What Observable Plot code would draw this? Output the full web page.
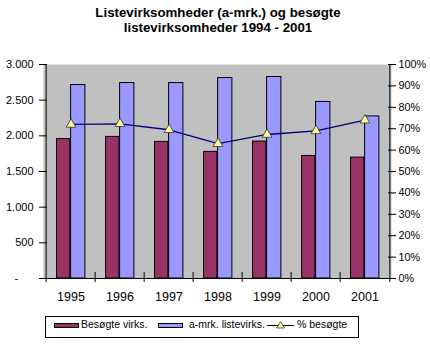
<!DOCTYPE html>
<html>
<head>
<meta charset="utf-8">
<script src="https://cdn.jsdelivr.net/npm/d3@7"></script>
<script src="https://cdn.jsdelivr.net/npm/@observablehq/plot@0.6"></script>
<style>
  body { margin: 0; background: #fff; font-family: "Liberation Sans", Arial, sans-serif; }
  #wrap { position: relative; width: 430px; height: 351px; background: #fff; overflow: hidden; }
  #title { position: absolute; top: 5px; left: 0; width: 436px; text-align: center; font-weight: bold; font-size: 13.3px; line-height: 15px; color: #000; }
  #legend { position: absolute; left: 45px; top: 316px; width: 314px; height: 22px; border: 1px solid #000; box-sizing: border-box; background: #fff; }
  #legend .sw { position: absolute; height: 5px; width: 25px; border: 1px solid #000; box-sizing: border-box; top: 6px; }
  #legend .lb { position: absolute; font-size: 10.5px; line-height: 12px; top: 1px; color: #000; white-space: nowrap; }
  #legend svg { position: absolute; }
  #chart { position: absolute; left: 0; top: 0; }
</style>
</head>
<body>
<div id="wrap">
  <div id="chart"></div>
  <div id="title">Listevirksomheder (a-mrk.) og besøgte<br>listevirksomheder 1994 - 2001</div>
  <div id="legend"></div>
</div>
<script>
// ---- data ----
const years = ["1995", "1996", "1997", "1998", "1999", "2000", "2001"];
const besogteVirks = [1955, 1985, 1915, 1775, 1920, 1718, 1695];
const amrkListevirks = [2712, 2740, 2740, 2810, 2825, 2475, 2272];
const pctBesogte = [72, 72.3, 69.5, 63, 67.3, 69, 74];
const leftTicks = [0, 500, 1000, 1500, 2000, 2500, 3000];
const rightTicks = [0, 10, 20, 30, 40, 50, 60, 70, 80, 90, 100];
const seriesNames = ["Besøgte virks.", "a-mrk. listevirks.", "% besøgte"];

// ---- styles ----
const RED = "#993366", BLUE = "#9999ff", NAVY = "#000080", TRI = "#ffff99", BG = "#c0c0c0";
const W = 430, H = 351, ML = 43, MR = 39, MT = 64, MB = 73;
const plotW = W - ML - MR, plotH = H - MT - MB;
const bw = plotW / years.length;
const PCT_TO_Y = 3000 / 100;

const rows = years.map((y, i) => ({ year: y, besogte: besogteVirks[i], amrk: amrkListevirks[i], pct: pctBesogte[i] }));

const fmtLeft = d => d === 0 ? "-\u00a0\u00a0\u00a0\u00a0\u00a0" : d3.format(",")(d).replace(/,/g, ".");

const chart = Plot.plot({
  width: W, height: H,
  marginLeft: ML, marginRight: MR, marginTop: MT, marginBottom: MB,
  style: { fontFamily: "Liberation Sans, Arial, sans-serif", background: "transparent", color: "#000", overflow: "visible" },
  x: { type: "band", domain: years, paddingInner: 0, paddingOuter: 0, label: null },
  y: { domain: [0, 3000], label: null },
  marks: [
    Plot.frame({ fill: BG, stroke: "none" }),
    Plot.barY(rows, { x: "year", y: "besogte", fill: RED, stroke: "#000", strokeWidth: 1, insetLeft: 10.6, insetRight: bw - 24.6 }),
    Plot.barY(rows, { x: "year", y: "amrk", fill: BLUE, stroke: "#000", strokeWidth: 1, insetLeft: 24.6, insetRight: bw - 39.6 }),
    Plot.lineY(rows, { x: "year", y: d => d.pct * PCT_TO_Y, stroke: NAVY, strokeWidth: 1.3 }),
    Plot.dot(rows, { x: "year", y: d => d.pct * PCT_TO_Y, symbol: "triangle", r: 3.6, fill: TRI, stroke: "#333", strokeWidth: 0.8 }),
    // axis lines
    Plot.ruleY([0], { stroke: "#000", strokeWidth: 1 }),
    Plot.ruleX([years[0]], { dx: -bw / 2, stroke: "#000", insetBottom: -4 }),
    Plot.ruleX([years[years.length - 1]], { dx: bw / 2, stroke: "#000", insetBottom: -4 }),
    // category boundary ticks
    Plot.ruleX(years.slice(1), { dx: -bw / 2, stroke: "#000", insetTop: plotH - 6, insetBottom: -4 }),
    // axes
    Plot.axisX({ tickSize: 0, tickPadding: 14, fontSize: 12.5 }),
    Plot.axisY({ anchor: "left", ticks: leftTicks, tickFormat: fmtLeft, tickSize: 8, dx: 4, tickPadding: 6, fontSize: 11 }),
    Plot.axisY({ anchor: "right", ticks: rightTicks.map(p => p * PCT_TO_Y), tickFormat: d => Math.round(d / PCT_TO_Y) + "%", tickSize: 8, dx: -4, tickPadding: 3, fontSize: 10.8 })
  ]
});
document.getElementById("chart").appendChild(chart);

// ---- legend ----
const lg = document.getElementById("legend");
const ox = 46; // legend inner left edge (page px)
function add(html) { lg.insertAdjacentHTML("beforeend", html); }
add(`<div class="sw" style="left:${54 - ox}px;background:${RED}"></div>`);
add(`<div class="lb" style="left:${81 - ox}px">${seriesNames[0]}</div>`);
add(`<div class="sw" style="left:${158 - ox}px;background:${BLUE}"></div>`);
add(`<div class="lb" style="left:${189 - ox}px">${seriesNames[1]}</div>`);
add(`<svg width="28" height="12" style="left:${267 - ox}px;top:2px"><line x1="0" x2="27" y1="6.5" y2="6.5" stroke="#000" stroke-width="1"/><path d="M13.5,2.5 L17.5,9 L9.5,9 Z" fill="${TRI}" stroke="#333" stroke-width="0.8"/></svg>`);
add(`<div class="lb" style="left:${297 - ox}px">${seriesNames[2]}</div>`);
</script>
</body>
</html>
